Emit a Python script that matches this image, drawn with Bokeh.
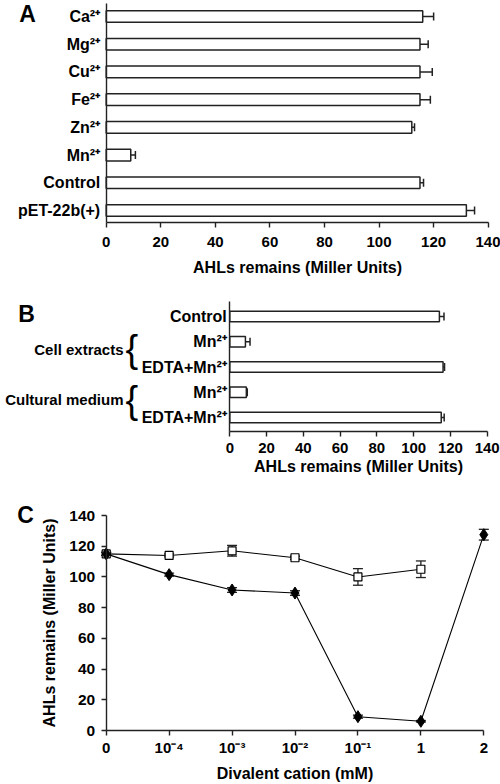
from bokeh.plotting import figure
from bokeh.models import ColumnDataSource, Range1d, FixedTicker, Whisker, TeeHead, Label
from bokeh.layouts import column
from bokeh.embed import file_html
from bokeh.resources import INLINE

FONT = "Liberation Sans"
INK = "#222222"

# ---------------- data ----------------
a_labels = ["Ca²⁺", "Mg²⁺", "Cu²⁺", "Fe²⁺", "Zn²⁺", "Mn²⁺", "Control", "pET-22b(+)"]
a_values = [116, 115, 115, 115, 112, 9, 115, 132]
a_errors = [4, 3, 4.5, 3.8, 1, 1.7, 1.3, 3]
x_ticks_ab = [0, 20, 40, 60, 80, 100, 120, 140]

b_labels = ["Control", "Mn²⁺", "EDTA+Mn²⁺", "Mn²⁺", "EDTA+Mn²⁺"]
b_values = [114, 8.5, 116, 9, 115]
b_errors = [2.5, 2.5, 0.8, 0.5, 1.6]
b_groups = ["Cell extracts", "Cultural medium"]
b_group_members = [[1, 2], [3, 4]]

c_ticks = ["0", "10⁻⁴", "10⁻³", "10⁻²", "10⁻¹", "1", "2"]
c_open = [115, 114, 117, 112.5, 100, 105]
c_open_err = [1, 1, 3.5, 1, 5.4, 5.4]
c_filled = [115, 101.5, 91.5, 89.5, 9, 6, 127.5]
c_filled_err = [1, 1, 1.5, 1.5, 1, 0.5, 3.5]
c_y_ticks = [0, 20, 40, 60, 80, 100, 120, 140]

AXIS_TITLE = "AHLs remains (Miller Units)"

W = 500  # page width used by every panel


def at(p0, v0, p1, v1, p):
    """Data value at page pixel p, given two (pixel, value) anchors."""
    return v0 + (p - p0) * (v1 - v0) / (p1 - p0)


def style_axis(ax, label_size="15px"):
    ax.axis_line_color = INK
    ax.axis_line_width = 1.4
    ax.major_label_text_font = FONT
    ax.major_label_text_font_style = "bold"
    ax.major_label_text_font_size = label_size
    ax.major_label_text_color = "black"
    ax.axis_label_text_font = FONT
    ax.axis_label_text_font_style = "bold"
    ax.axis_label_text_font_size = "16px"
    ax.axis_label_text_color = "black"
    ax.minor_tick_line_color = None
    ax.major_tick_line_color = INK
    ax.major_tick_line_width = 1.4
    ax.major_tick_in = 0
    ax.major_tick_out = 5


def base_fig(height, x_range, y_range):
    p = figure(width=W, height=height, x_range=x_range, y_range=y_range,
               output_backend="svg", toolbar_location=None,
               min_border=0, min_border_left=0, min_border_right=0,
               min_border_top=0, min_border_bottom=0)
    p.outline_line_color = None
    p.grid.visible = False
    p.background_fill_color = "white"
    p.border_fill_color = "white"
    for ax in p.axis:
        style_axis(ax)
    return p


def letter(p, text, px, py, top):
    # px, py: page position of the letter centre; top: page y of the figure top
    p.add_layout(Label(x=px, y=p.height - (py - top), x_units="screen", y_units="screen",
                       text=text, text_font=FONT, text_font_style="bold", text_font_size="23px",
                       text_align="center", text_baseline="middle", text_color="black"))


def hbar_panel(p, labels, values, errors, axis_y, axis_top, label_standoff):
    n = len(labels)
    src = ColumnDataSource(dict(
        y=list(range(n)), v=values,
        lo=[v - e for v, e in zip(values, errors)],
        hi=[v + e for v, e in zip(values, errors)]))
    p.hbar(y="y", left=0, right="v", height=0.42, source=src,
           fill_color="white", line_color=INK, line_width=1.5)
    p.add_layout(Whisker(base="y", lower="lo", upper="hi", source=src, dimension="width",
                         line_color=INK, line_width=1.5,
                         lower_head=TeeHead(size=8, line_color=INK, line_width=1.5),
                         upper_head=TeeHead(size=8, line_color=INK, line_width=1.5)))
    p.yaxis.fixed_location = 0
    p.yaxis.bounds = (axis_top, axis_y)
    p.yaxis.ticker = FixedTicker(ticks=list(range(n)))
    p.yaxis.major_label_overrides = {i: lab for i, lab in enumerate(labels)}
    p.yaxis.major_tick_line_color = None
    p.yaxis.major_tick_out = 0
    p.yaxis.major_label_text_font_size = "16px"
    p.yaxis.major_label_standoff = label_standoff
    p.xaxis.fixed_location = axis_y
    p.xaxis.bounds = (x_ticks_ab[0], x_ticks_ab[-1])
    p.xaxis.ticker = FixedTicker(ticks=x_ticks_ab)
    p.xaxis.axis_label = AXIS_TITLE


# ---------------- Panel A : page y 0..280 ----------------
A_TOP, A_H = 0, 280
ax0, ax1 = 105.7, 487.7           # page x of 0 and 140
ay0, ay7 = 16.0, 210.0            # page y of first and last bar
xa = lambda px: at(ax0, 0, ax1, 140, px)
ya = lambda py: at(ay0, 0, ay7, 7, py)
pa = base_fig(A_H, Range1d(xa(0), xa(W)), Range1d(ya(A_TOP + A_H), ya(A_TOP)))
hbar_panel(pa, a_labels, a_values, a_errors, axis_y=ya(222), axis_top=ya(3), label_standoff=6)
pa.xaxis.major_label_standoff = 9
pa.xaxis.axis_label_standoff = 9
letter(pa, "A", 27, 13, A_TOP)

# ---------------- Panel B : page y 280..477 ----------------
B_TOP, B_H = 280, 197
bx0, bx1 = 229.3, 486.7
by0, by4 = 316.0, 417.0
xb = lambda px: at(bx0, 0, bx1, 140, px)
yb = lambda py: at(by0, 0, by4, 4, py)
pb = base_fig(B_H, Range1d(xb(0), xb(W)), Range1d(yb(B_TOP + B_H), yb(B_TOP)))
hbar_panel(pb, b_labels, b_values, b_errors, axis_y=yb(431), axis_top=yb(301), label_standoff=3)
pb.xaxis.major_label_standoff = 6
pb.xaxis.axis_label_standoff = 2
for name, members in zip(b_groups, b_group_members):
    mid = sum(members) / len(members)
    pb.add_layout(Label(x=0, y=mid, x_offset=123 - bx0, y_offset=5, text=name,
                        text_font=FONT, text_font_style="bold", text_font_size="15px",
                        text_align="right", text_baseline="middle", text_color="black"))
    pb.add_layout(Label(x=0, y=mid, x_offset=125 - bx0, y_offset=5, text="{",
                        text_font=FONT, text_font_size="38px",
                        text_align="left", text_baseline="middle", text_color="black"))
letter(pb, "B", 26, 313, B_TOP)

# ---------------- Panel C : page y 477..784 ----------------
C_TOP, C_H = 477, 307
cx0, cx6 = 105.7, 483.3
cy0, cy140 = 730.0, 515.0
xc = lambda px: at(cx0, 0, cx6, 6, px)
yc = lambda py: at(cy0, 0, cy140, 140, py)
pc = base_fig(C_H, Range1d(xc(0), xc(W)), Range1d(yc(C_TOP + C_H), yc(C_TOP)))
pc.yaxis.fixed_location = 0
pc.yaxis.bounds = (c_y_ticks[0], c_y_ticks[-1])
pc.yaxis.ticker = FixedTicker(ticks=c_y_ticks)
pc.yaxis.axis_label = AXIS_TITLE
pc.yaxis.major_label_text_font_size = "15.5px"
pc.yaxis.major_label_standoff = 6
pc.yaxis.axis_label_standoff = 9
pc.xaxis.fixed_location = 0
pc.xaxis.ticker = FixedTicker(ticks=list(range(len(c_ticks))))
pc.xaxis.major_label_overrides = {i: t for i, t in enumerate(c_ticks)}
pc.xaxis.bounds = (0, len(c_ticks) - 1)
pc.xaxis.axis_label = "Divalent cation (mM)"
pc.xaxis.major_label_standoff = 3
pc.xaxis.axis_label_standoff = 6

src_open = ColumnDataSource(dict(
    x=list(range(len(c_open))), y=c_open,
    lo=[v - e for v, e in zip(c_open, c_open_err)],
    hi=[v + e for v, e in zip(c_open, c_open_err)]))
src_fill = ColumnDataSource(dict(
    x=list(range(len(c_filled))), y=c_filled,
    lo=[v - e for v, e in zip(c_filled, c_filled_err)],
    hi=[v + e for v, e in zip(c_filled, c_filled_err)]))

for src in (src_open, src_fill):
    pc.add_layout(Whisker(base="x", lower="lo", upper="hi", source=src, dimension="height",
                          line_color=INK, line_width=1.3,
                          lower_head=TeeHead(size=10, line_color=INK, line_width=1.3),
                          upper_head=TeeHead(size=10, line_color=INK, line_width=1.3)))

pc.line("x", "y", source=src_open, line_color="black", line_width=1.1)
pc.scatter("x", "y", source=src_open, marker="square", size=8,
           fill_color="white", line_color="black", line_width=1.2)
pc.line("x", "y", source=src_fill, line_color="black", line_width=1.1)
pc.scatter("x", "y", source=src_fill, marker="diamond", size=12,
           fill_color="black", line_color="black", line_width=1)
letter(pc, "C", 25, 514, C_TOP)

layout = column(pa, pb, pc, spacing=0)
open("out.html", "w").write(file_html(layout, INLINE))
